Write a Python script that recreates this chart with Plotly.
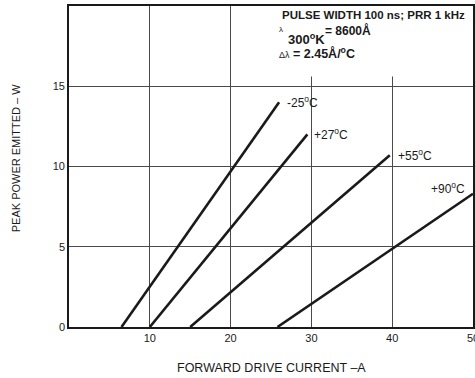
import plotly.graph_objects as go

# Peak power vs forward drive current at four case temperatures
temps = ["-25<sup>o</sup>C", "+27<sup>o</sup>C", "+55<sup>o</sup>C", "+90<sup>o</sup>C"]
current_start = [6.5, 10.0, 15.0, 25.8]
current_end = [26.0, 29.5, 39.7, 50.0]
power_start = [0, 0, 0, 0]
power_end = [14.0, 12.0, 10.7, 8.3]

x_ticks = [10, 20, 30, 40, 50]
y_ticks = [0, 5, 10, 15]

FONT = "Liberation Sans, Arial, sans-serif"
INK = "#1a1a1a"

fig = go.Figure()
label_shift = [6, 5, 6, 0]
for name, x0, x1, y0, y1, dx in zip(temps, current_start, current_end,
                                    power_start, power_end, label_shift):
    fig.add_trace(go.Scatter(
        x=[x0, x1], y=[y0, y1], mode="lines", name=name,
        line=dict(color=INK, width=2.6), showlegend=False,
    ))
    fig.add_annotation(
        x=x1, y=y1, text=name, showarrow=False, xanchor="left", yanchor="middle",
        xshift=dx, font=dict(family=FONT, size=12, color=INK),
    )

# the +90 label sits above its line, inside the frame
fig.layout.annotations[-1].update(x=44.6, y=8.65, xshift=0)

# white panel behind the test-condition notes (hides the grid there)
fig.add_shape(type="rect", xref="x", yref="y", x0=25.2, x1=50, y0=15.6, y1=20,
              fillcolor="white", line=dict(width=0), layer="between")

fig.add_annotation(x=26.1, y=19.44, text="<b>PULSE WIDTH 100 ns; PRR 1 kHz</b>",
                   showarrow=False, xanchor="left", yanchor="middle",
                   font=dict(family=FONT, size=11.5, color=INK))
fig.add_annotation(x=25.8, y=18.55, text="λ", showarrow=False, xanchor="left",
                   yanchor="middle", font=dict(family=FONT, size=8, color=INK))
fig.add_annotation(x=26.85, y=17.95, text="<b>300<sup>o</sup>K</b>", showarrow=False,
                   xanchor="left", yanchor="middle",
                   font=dict(family=FONT, size=13, color=INK))
fig.add_annotation(x=31.4, y=18.45, text="<b>= 8600Å</b>", showarrow=False,
                   xanchor="left", yanchor="middle",
                   font=dict(family=FONT, size=12, color=INK))
fig.add_annotation(x=25.7, y=17.1,
                   text="<span style='font-size:9px'>Δλ</span> <b>= 2.45Å/<sup>o</sup>C</b>",
                   showarrow=False, xanchor="left", yanchor="middle",
                   font=dict(family=FONT, size=12.5, color=INK))

# axis titles
fig.add_annotation(xref="paper", yref="paper", x=-0.131, y=0.526,
                   text="PEAK POWER EMITTED – W", textangle=-90, showarrow=False,
                   xanchor="center", yanchor="middle",
                   font=dict(family=FONT, size=11, color=INK))
fig.add_annotation(xref="paper", yref="paper", x=0.5, y=-0.128,
                   text="FORWARD DRIVE CURRENT –A", showarrow=False,
                   xanchor="center", yanchor="middle",
                   font=dict(family=FONT, size=12.5, color=INK))

axis_common = dict(
    showline=True, linecolor=INK, linewidth=1.6, mirror=True,
    showgrid=True, gridcolor="#4a4a4a", gridwidth=1,
    zeroline=False, ticks="", tickfont=dict(family=FONT, size=11, color=INK),
    ticklabeloverflow="allow", automargin=False,
)
fig.update_xaxes(range=[0, 50], tickvals=x_ticks, ticktext=[str(v) for v in x_ticks],
                 **axis_common)
fig.update_yaxes(range=[0, 20], tickvals=y_ticks, ticktext=[str(v) for v in y_ticks],
                 **axis_common)

fig.update_layout(
    width=475, height=378,
    margin=dict(l=69, r=2, t=6, b=51),
    paper_bgcolor="white", plot_bgcolor="white",
    font=dict(family=FONT, color=INK),
)

fig.write_html("out.html")
